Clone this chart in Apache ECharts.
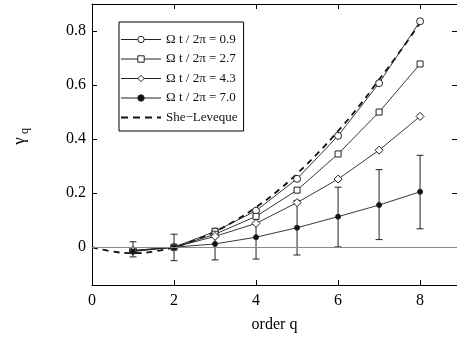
<!DOCTYPE html>
<html>
<head>
<meta charset="utf-8">
<script src="https://cdn.jsdelivr.net/npm/echarts@6/dist/echarts.min.js"></script>
<style>html,body{margin:0;padding:0;background:#fff}#c{width:457px;height:338px}</style>
</head>
<body>
<div id="c"></div>
<script>
// ---- data ----
const orders = [1, 2, 3, 4, 5, 6, 7, 8];
const seriesNames = ['Ω t / 2π = 0.9', 'Ω t / 2π = 2.7', 'Ω t / 2π = 4.3', 'Ω t / 2π = 7.0', 'She−Leveque'];
const gamma09 = [-0.012, 0, 0.058, 0.135, 0.253, 0.412, 0.607, 0.836];
const gamma27 = [-0.013, 0, 0.048, 0.114, 0.211, 0.345, 0.500, 0.678];
const gamma43 = [-0.014, 0, 0.040, 0.088, 0.165, 0.252, 0.359, 0.484];
const gamma70 = [-0.016, 0, 0.012, 0.037, 0.072, 0.113, 0.156, 0.205];
const err70Low = [-0.036, -0.050, -0.047, -0.044, -0.029, 0.001, 0.028, 0.068];
const err70High = [0.020, 0.048, 0.070, 0.118, 0.173, 0.222, 0.287, 0.340];
const slOrders = [0, 0.5, 1, 1.5, 2, 2.5, 3, 3.5, 4, 4.5, 5, 5.5, 6, 6.5, 7, 7.5, 8];
const slValues = [0, -0.016, -0.022, -0.016, 0, 0.025, 0.058, 0.099, 0.148, 0.205, 0.272, 0.347, 0.430, 0.520, 0.620, 0.722, 0.830];
const xTicks = [0, 2, 4, 6, 8];
const yTicks = [0, 0.2, 0.4, 0.6, 0.8];

const font = 'Liberation Serif';
const pair = (xs, ys) => xs.map((x, i) => [x, ys[i]]);
const lineCol = '#222';

const chart = echarts.init(document.getElementById('c'), null, {renderer: 'canvas'});
const baseAxis = {
  type: 'value',
  splitLine: {show: false},
  axisLine: {show: true, onZero: false, lineStyle: {color: '#000', width: 1}},
  axisTick: {show: true, inside: true, length: 5, lineStyle: {color: '#000'}},
};
const mkSeries = (name, data, symbol, size, fill) => ({
  name, type: 'line', data, symbol, symbolSize: size,
  lineStyle: {color: lineCol, width: 0.9},
  itemStyle: {color: fill, borderColor: lineCol, borderWidth: 1},
  z: 3
});

chart.setOption({
  animation: false,
  backgroundColor: '#fff',
  grid: {left: 92, top: 4, width: 366, height: 286, containLabel: false},
  legend: {
    left: 119, top: 22, orient: 'vertical',
    data: seriesNames.slice(0, 4).map(n => ({name: n})).concat([
      {name: seriesNames[4], itemStyle: {opacity: 0, color: 'transparent', borderColor: 'transparent'},
       lineStyle: {width: 2, type: [7, 5]}}
    ]),
    itemWidth: 40, itemHeight: 8, itemGap: 6.5,
    padding: [11, 6, 7, 1],
    borderColor: '#000', borderWidth: 1, backgroundColor: '#fff',
    lineStyle: {width: 1},
    itemStyle: {borderWidth: 1},
    textStyle: {fontFamily: font, fontSize: 13, color: '#111'}
  },
  xAxis: [
    Object.assign({}, baseAxis, {
      min: 0, max: 8.9, position: 'bottom',
      axisTick: Object.assign({}, baseAxis.axisTick, {customValues: xTicks}),
      axisLabel: {customValues: xTicks, fontFamily: font, fontSize: 16, color: '#000', margin: 8, formatter: v => String(v)},
      name: 'order q', nameLocation: 'middle', nameGap: 32,
      nameTextStyle: {fontFamily: font, fontSize: 16, color: '#000'}
    }),
    Object.assign({}, baseAxis, {
      min: 0, max: 8.9, position: 'top',
      axisTick: Object.assign({}, baseAxis.axisTick, {customValues: xTicks}),
      axisLabel: {show: false}
    })
  ],
  yAxis: [
    Object.assign({}, baseAxis, {
      min: -0.14, max: 0.9, position: 'left',
      axisTick: Object.assign({}, baseAxis.axisTick, {customValues: yTicks}),
      axisLabel: {customValues: yTicks, fontFamily: font, fontSize: 16, color: '#000', margin: 6, formatter: v => String(Math.round(v * 10) / 10)}
    }),
    Object.assign({}, baseAxis, {
      min: -0.14, max: 0.9, position: 'right',
      axisTick: Object.assign({}, baseAxis.axisTick, {customValues: yTicks}),
      axisLabel: {show: false}
    })
  ],
  graphic: [
    {type: 'text', x: 20, y: 141, rotation: Math.PI / 2, style: {text: 'γ', font: '17px "Liberation Serif"', fill: '#000', textAlign: 'center', textVerticalAlign: 'middle'}},
    {type: 'text', x: 25, y: 131, rotation: Math.PI / 2, style: {text: 'q', font: '12px "Liberation Serif"', fill: '#000', textAlign: 'center', textVerticalAlign: 'middle'}}
  ],
  series: [
    {
      name: 'zero', type: 'line', data: [], silent: true,
      markLine: {silent: true, symbol: 'none', label: {show: false},
        lineStyle: {color: '#8a8a8a', width: 1, type: 'solid'}, data: [{yAxis: 0}]},
      z: 1
    },
    {
      name: seriesNames[4], type: 'line', data: pair(slOrders, slValues), symbol: 'none', smooth: true,
      lineStyle: {color: '#111', width: 1.8, type: [6, 5]}, itemStyle: {color: '#111'}, z: 2
    },
    {
      name: 'err', type: 'custom', silent: true, z: 2,
      data: orders.map((q, i) => [q, err70Low[i], err70High[i]]),
      encode: {x: 0, y: [1, 2]},
      renderItem: (params, api) => {
        const lo = api.coord([api.value(0), api.value(1)]);
        const hi = api.coord([api.value(0), api.value(2)]);
        const w = 3.5;
        const st = {stroke: '#222', lineWidth: 1};
        return {type: 'group', children: [
          {type: 'line', shape: {x1: lo[0], y1: lo[1], x2: hi[0], y2: hi[1]}, style: st},
          {type: 'line', shape: {x1: lo[0] - w, y1: lo[1], x2: lo[0] + w, y2: lo[1]}, style: st},
          {type: 'line', shape: {x1: hi[0] - w, y1: hi[1], x2: hi[0] + w, y2: hi[1]}, style: st}
        ]};
      }
    },
    mkSeries(seriesNames[0], pair(orders, gamma09), 'circle', 7, '#fff'),
    mkSeries(seriesNames[1], pair(orders, gamma27), 'rect', 6, '#fff'),
    mkSeries(seriesNames[2], pair(orders, gamma43), 'diamond', 8, '#fff'),
    mkSeries(seriesNames[3], pair(orders, gamma70), 'circle', 5, '#111')
  ]
});
</script>
</body>
</html>
